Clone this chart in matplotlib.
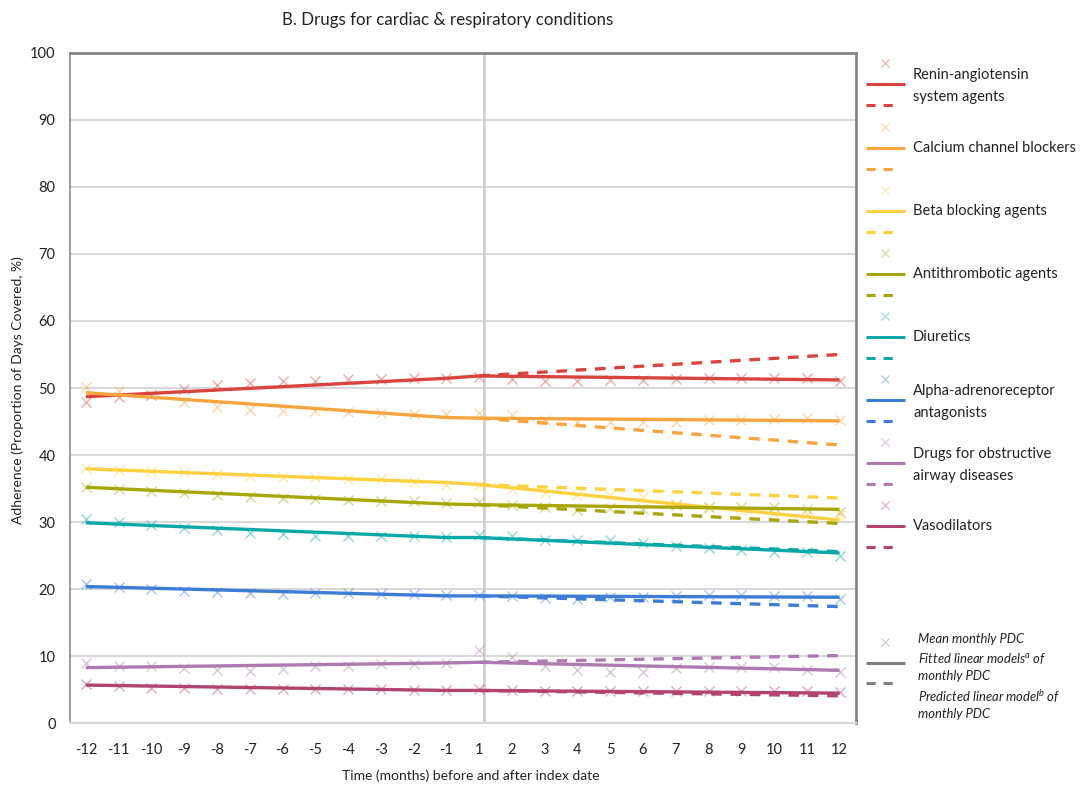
import matplotlib
matplotlib.use("Agg")
import matplotlib.pyplot as plt

plt.rcParams['font.family'] = ['Lato', 'DejaVu Sans']
plt.rcParams['mathtext.fontset'] = 'custom'
plt.rcParams['mathtext.it'] = 'Lato:italic'
plt.rcParams['mathtext.rm'] = 'Lato'

# ---------------- data ----------------
months = ['-12', '-11', '-10', '-9', '-8', '-7', '-6', '-5', '-4', '-3', '-2', '-1',
          '1', '2', '3', '4', '5', '6', '7', '8', '9', '10', '11', '12']

series_names = ['Renin-angiotensin\nsystem agents', 'Calcium channel blockers',
                'Beta blocking agents', 'Antithrombotic agents', 'Diuretics',
                'Alpha-adrenoreceptor\nantagonists', 'Drugs for obstructive\nairway diseases',
                'Vasodilators']
series_colors = ['#D9443F', '#F8A540', '#FDD23E', '#A8A70A', '#0BA8A8',
                 '#3D7DD8', '#AF7AB2', '#B2446F']

renin = [47.9, 48.6, 49.0, 49.8, 50.4, 50.7, 51.0, 51.1, 51.3, 51.4, 51.5, 51.5,
         51.6, 51.3, 51.0, 51.0, 51.2, 51.25, 51.3, 51.5, 51.5, 51.5, 51.5, 51.1]
calcium = [50.2, 49.5, 48.9, 47.9, 47.1, 46.7, 46.5, 46.5, 46.4, 46.2, 46.1, 46.1,
           46.2, 45.9, 45.2, 44.9, 45.0, 44.9, 45.0, 45.2, 45.2, 45.4, 45.5, 45.2]
beta = [38.05, 37.8, 37.65, 37.45, 37.2, 36.9, 36.75, 36.7, 36.5, 36.4, 36.0, 35.6,
        35.5, 34.9, 34.3, 34.1, 34.1, 33.8, 32.7, 32.1, 31.7, 31.25, 31.25, 31.0]
antithrombotic = [35.3, 35.0, 34.7, 34.4, 34.1, 33.7, 33.6, 33.5, 33.3, 33.2, 33.1, 32.9,
                  33.0, 32.6, 32.2, 31.8, 32.1, 32.0, 32.5, 32.2, 32.2, 32.2, 32.0, 31.5]
diuretics = [30.5, 30.0, 29.6, 29.15, 28.85, 28.45, 28.2, 28.0, 28.0, 28.0, 27.9, 27.8,
             28.1, 27.9, 27.4, 27.3, 27.3, 26.9, 26.5, 26.1, 25.8, 25.5, 25.5, 24.9]
alpha = [20.8, 20.3, 20.0, 19.7, 19.6, 19.4, 19.3, 19.4, 19.4, 19.3, 19.3, 19.15,
         19.15, 19.0, 18.7, 18.6, 18.8, 18.8, 19.0, 19.1, 19.1, 19.0, 19.0, 18.6]
obstructive = [9.0, 8.6, 8.5, 8.3, 8.0, 7.8, 8.15, 8.5, 8.6, 8.8, 8.9, 9.0,
               10.9, 9.9, 8.5, 7.9, 7.65, 7.7, 8.25, 8.4, 8.4, 8.4, 8.0, 7.65]
vasodilators = [5.9, 5.5, 5.3, 5.3, 5.15, 5.05, 5.05, 5.1, 5.1, 5.05, 4.9, 4.9,
                5.1, 4.9, 4.8, 4.8, 4.8, 4.8, 4.8, 4.8, 4.8, 4.8, 4.8, 4.7]

mean_pdc = [renin, calcium, beta, antithrombotic, diuretics, alpha, obstructive, vasodilators]

# fitted segmented model values at months -12, -1, 1, 12
fit_months = ['-12', '-1', '1', '12']
fitted = [
    [48.7, 51.45, 51.8, 51.2],
    [49.3, 45.6, 45.5, 45.1],
    [37.95, 35.9, 35.6, 30.3],
    [35.2, 32.7, 32.6, 31.9],
    [29.9, 27.7, 27.7, 25.4],
    [20.4, 19.0, 19.0, 18.8],
    [8.3, 9.0, 9.1, 7.9],
    [5.7, 4.9, 4.9, 4.5],
]
# predicted (counterfactual) model values at months 1, 12
pred_months = ['1', '12']
predicted = [
    [51.8, 55.0],
    [45.5, 41.5],
    [35.6, 33.6],
    [32.6, 29.8],
    [27.7, 25.6],
    [19.0, 17.4],
    [9.1, 10.1],
    [4.9, 4.1],
]

# ---------------- figure ----------------
W, H = 1084, 790
fig = plt.figure(figsize=(W / 100, H / 100), dpi=100)
ax = fig.add_axes([69.5 / W, 1 - 723.3 / H, (856 - 69.5) / W, (723.3 - 52.7) / H])

xpos = {m: i for i, m in enumerate(months)}

for vals, col in zip(mean_pdc, series_colors):
    ax.plot(range(len(months)), vals, linestyle='none', marker='x', ms=7.5, mew=1.0,
            color=col, alpha=0.45, zorder=3)

for fit, pred, col in zip(fitted, predicted, series_colors):
    ax.plot([xpos[m] for m in pred_months], pred, color=col, lw=2.4,
            dashes=(3.2, 2.6), zorder=4, solid_capstyle='butt')
    ax.plot([xpos[m] for m in fit_months], fit, color=col, lw=2.4, zorder=5,
            solid_capstyle='butt')

ax.set_xlim(-0.5, len(months) - 0.5)
ax.set_ylim(0, 100)
ax.set_yticks(range(0, 101, 10))
ax.set_xticks(range(len(months)))
ax.set_xticklabels(months)
ax.tick_params(axis='both', length=0, labelsize=10.5, colors='#222222')
ax.tick_params(axis='x', pad=14)
ax.tick_params(axis='y', pad=10)
ax.grid(axis='y', color='#D9D9D9', lw=1.5, zorder=0)
ax.set_axisbelow(True)
ax.axvline(xpos['1'] + 0.15, color='#D0D0D0', lw=2, zorder=1)

for s in ['top', 'right']:
    ax.spines[s].set_color('#858585')
    ax.spines[s].set_linewidth(2)
ax.spines['left'].set_color('#8C8C8C')
ax.spines['left'].set_linewidth(1.2)
ax.spines['bottom'].set_color('#D9D9D9')
ax.spines['bottom'].set_linewidth(1.5)

fig.text(448 / W, 1 - 20 / H, 'B. Drugs for cardiac & respiratory conditions',
         ha='center', va='center', fontsize=12.2, color='#222222')
fig.text(471 / W, 1 - 776 / H, 'Time (months) before and after index date',
         ha='center', va='center', fontsize=10, color='#222222')
fig.text(18 / W, 1 - 390 / H, 'Adherence (Proportion of Days Covered, %)',
         ha='center', va='center', rotation=90, fontsize=10, color='#222222')

# ---------------- legend (drawn in figure pixel coords) ----------------
lax = fig.add_axes([0, 0, 1, 1], facecolor='none')
lax.set_xlim(0, W)
lax.set_ylim(H, 0)
lax.axis('off')

group_tops = [63, 127, 190, 253, 316, 379, 442, 505]
for name, col, y0 in zip(series_names, series_colors, group_tops):
    lax.plot([885], [y0], marker='x', ms=6, mew=0.9, color=col, alpha=0.4, linestyle='none')
    lax.plot([866, 905], [y0 + 21, y0 + 21], color=col, lw=2.2, solid_capstyle='butt')
    lax.plot([866, 900], [y0 + 42, y0 + 42], color=col, lw=2.2, dashes=(3.0, 2.6))
    lines = name.split('\n')
    if len(lines) == 2:
        lax.text(913, y0 + 12, lines[0], fontsize=10.5, va='center', ha='left', color='#222222')
        lax.text(913, y0 + 34, lines[1], fontsize=10.5, va='center', ha='left', color='#222222')
    else:
        lax.text(913, y0 + 21, lines[0], fontsize=10.5, va='center', ha='left', color='#222222')

gray = '#808080'
lax.plot([885], [642], marker='x', ms=6, mew=0.9, color=gray, alpha=0.4, linestyle='none')
lax.plot([866, 905], [663, 663], color=gray, lw=2.2, solid_capstyle='butt')
lax.plot([866, 900], [683, 683], color=gray, lw=2.2, dashes=(3.0, 2.6))
note_kw = dict(fontsize=9.4, style='italic', va='center', ha='left', color='#222222')
lax.text(918, 639, 'Mean monthly PDC', **note_kw)
lax.text(918, 659, r'Fitted linear models$^{a}$ of', **note_kw)
lax.text(918, 676, 'monthly PDC', **note_kw)
lax.text(918, 697, r'Predicted linear model$^{b}$ of', **note_kw)
lax.text(918, 714, 'monthly PDC', **note_kw)

fig.savefig('out.png', dpi=100)
